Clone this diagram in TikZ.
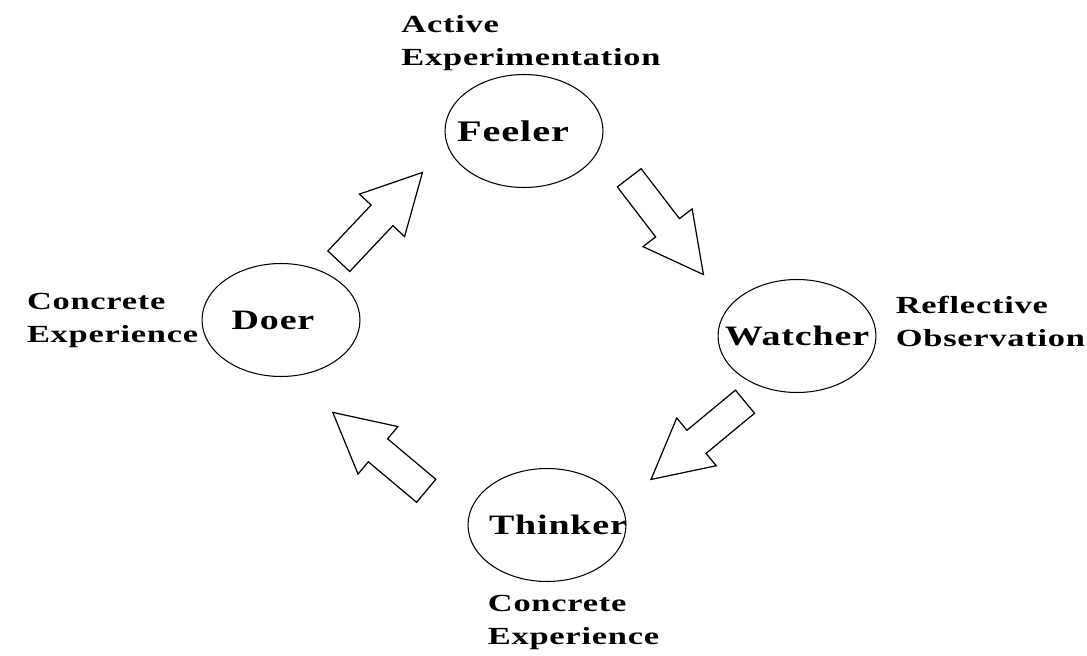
\documentclass[tikz,border=0pt]{standalone}
\usepackage{fontspec}
\newfontfamily\kolbfont{Liberation Serif}[FakeStretch=1.35,LetterSpace=3]
\newfontfamily\tagfont{Liberation Serif}[FakeStretch=1.4,LetterSpace=3]
\usetikzlibrary{shapes.geometric, positioning}
\tikzstyle{stage} = [ellipse, draw, line width=0.6pt, minimum width=3.16cm, minimum height=2.26cm, inner sep=0pt]
\tikzstyle{stagename} = [font=\kolbfont\bfseries\fontsize{16}{19}\selectfont]
\tikzstyle{bigname} = [font=\kolbfont\bfseries\fontsize{17}{20}\selectfont]
\tikzstyle{tag} = [inner sep=0pt, align=left, font=\tagfont\bfseries\fontsize{14}{18.8}\selectfont]
\tikzstyle{flow} = [draw, line width=0.7pt, fill=white, line join=miter]
\tikzset{pics/blockarrow/.style={code={
	\draw[flow] (0cm,-0.3cm) -- (1.26cm,-0.3cm) -- (1.26cm,-0.62cm) -- (2.44cm,0cm)
		-- (1.26cm,0.62cm) -- (1.26cm,0.3cm) -- (0cm,0.3cm) -- cycle;
}}}

\begin{document}
\begin{tikzpicture}[x=0.02cm, y=-0.02cm]
	\useasboundingbox (0,0) rectangle (1087,655);

	% Stages
	\node (feeler)  [stage, label={[bigname, xshift=-0.22cm]center:Feeler}]  at (524,131) {};
	\node (watcher) [stage, label={[stagename]center:Watcher}] at (797,336) {};
	\node (thinker) [stage, label={[stagename, xshift=0.22cm]center:Thinker}] at (547,525) {};
	\node (doer)    [stage, label={[stagename, xshift=-0.16cm]center:Doer}]    at (281,320) {};

	% Labels
	\node (actexp) [tag, above=0.06cm of feeler, xshift=0.14cm] {Active\\Experimentation};
	\node (refobs) [tag, right=0.38cm of watcher, yshift=0.3cm] {Reflective\\Observation};
	\node (conexp_left) [tag, left=0.06cm of doer] {Concrete\\Experience};
	\node (conexp_bottom) [tag, below=0.26cm of thinker, xshift=0.53cm] {Concrete\\Experience};

	% Block arrows (tail at the given point)
	\pic[rotate=46.7]  (do_fe) at (338.8,261.2) {blockarrow};
	\pic[rotate=-52.5] (fe_wa) at (629.2,177.8) {blockarrow};
	\pic[rotate=-140.4] (wa_th) at (745.0,401.7) {blockarrow};
	\pic[rotate=140]   (th_do) at (426.2,490.8) {blockarrow};

\end{tikzpicture}
\end{document}
